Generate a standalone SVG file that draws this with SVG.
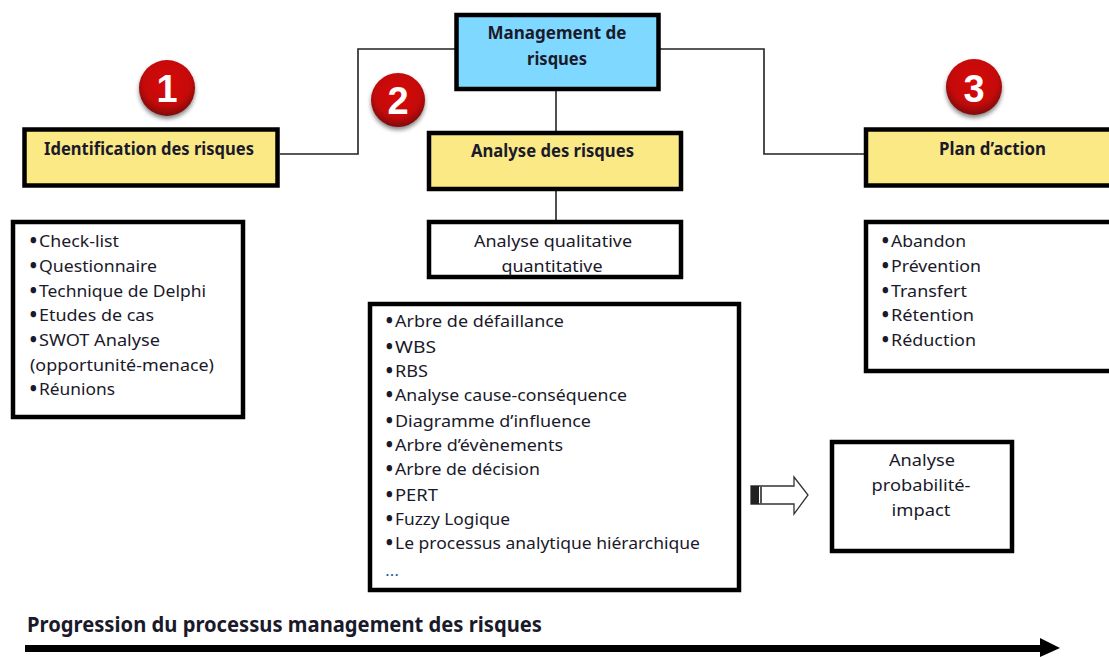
<svg xmlns="http://www.w3.org/2000/svg" width="1109" height="657" viewBox="0 0 1109 657">
<defs>
<radialGradient id="red" cx="0.5" cy="0.4" r="0.6"><stop offset="0" stop-color="#d80808"/><stop offset="0.7" stop-color="#c40a0a"/><stop offset="1" stop-color="#7e0a0a"/></radialGradient>
<filter id="sh" x="-30%" y="-30%" width="160%" height="160%"><feGaussianBlur stdDeviation="2"/></filter>
</defs>
<style>
text{font-family:"Noto Sans","Open Sans",sans-serif;fill:#1a1a2a;font-size:17px}
.b{font-weight:700;font-size:17px}
.box{stroke:#000;stroke-width:4.5;fill:#fff}
.y{fill:#fbe985}
.c{text-anchor:middle}
.n{font-family:"Liberation Sans",sans-serif;font-weight:700;font-size:38px;fill:#fff;text-anchor:middle}
.s{fill:#555;filter:url(#sh);opacity:.7}
.l{fill:none;stroke:#222;stroke-width:1.6}
.d{font-weight:900}
</style>
<rect width="1109" height="657" fill="#fff"/>
<g id="connectors">
<path class="l" d="M455 49H358V154H280"/>
<path class="l" d="M660 49H764V154H864"/>
<path class="l" d="M556 90V131"/>
<path class="l" d="M556 190V221"/>
</g>
<g id="mgmt">
<rect class="box" x="456.500" y="15" width="202" height="74" style="fill:#7fd8ff"/>
<text class="b c" x="557" y="39" textLength="139" lengthAdjust="spacingAndGlyphs">Management de</text>
<text class="b c" x="557" y="65" textLength="60" lengthAdjust="spacingAndGlyphs">risques</text>
</g>
<g id="badge1">
<circle class="s" cx="167" cy="91" r="28"/><circle cx="167" cy="88" r="28" fill="url(#red)"/>
<text class="n" x="167" y="102">1</text>
</g>
<g id="badge2">
<circle class="s" cx="398" cy="103" r="27"/><circle cx="398" cy="100" r="27" fill="url(#red)"/>
<text class="n" x="398" y="114">2</text>
</g>
<g id="badge3">
<circle class="s" cx="974" cy="90" r="28"/><circle cx="974" cy="87" r="28" fill="url(#red)"/>
<text class="n" x="974" y="102">3</text>
</g>
<g id="identification">
<rect class="box y" x="24.500" y="129.500" width="253" height="56"/>
<text class="b" x="44" y="155" textLength="210" lengthAdjust="spacingAndGlyphs">Identification des risques</text>
</g>
<g id="analyse">
<rect class="box y" x="429" y="133" width="252" height="56"/>
<text class="b" x="471" y="157" textLength="163" lengthAdjust="spacingAndGlyphs">Analyse des risques</text>
</g>
<g id="plan">
<rect class="box y" x="866" y="129.500" width="250" height="56"/>
<text class="b" x="939" y="155" textLength="107" lengthAdjust="spacingAndGlyphs">Plan d’action</text>
</g>
<g id="list1">
<rect class="box" x="13" y="222" width="230" height="195"/>
<text y="247"><tspan class="d" x="30">•</tspan><tspan x="39" textLength="80" lengthAdjust="spacingAndGlyphs">Check-list</tspan></text>
<text y="272"><tspan class="d" x="30">•</tspan><tspan x="39" textLength="118" lengthAdjust="spacingAndGlyphs">Questionnaire</tspan></text>
<text y="297"><tspan class="d" x="30">•</tspan><tspan x="39" textLength="167" lengthAdjust="spacingAndGlyphs">Technique de Delphi</tspan></text>
<text y="321"><tspan class="d" x="30">•</tspan><tspan x="39" textLength="115" lengthAdjust="spacingAndGlyphs">Etudes de cas</tspan></text>
<text y="346"><tspan class="d" x="30">•</tspan><tspan x="39" textLength="121" lengthAdjust="spacingAndGlyphs">SWOT Analyse</tspan></text>
<text x="30" y="371" textLength="184" lengthAdjust="spacingAndGlyphs">(opportunité-menace)</text>
<text y="395"><tspan class="d" x="30">•</tspan><tspan x="39" textLength="76" lengthAdjust="spacingAndGlyphs">Réunions</tspan></text>
</g>
<g id="qual">
<rect class="box" x="429" y="222" width="252" height="55"/>
<text class="c" x="553" y="247" textLength="158" lengthAdjust="spacingAndGlyphs">Analyse qualitative</text>
<text class="c" x="552" y="272" textLength="101" lengthAdjust="spacingAndGlyphs">quantitative</text>
</g>
<g id="list2">
<rect class="box" x="370" y="304" width="369" height="286"/>
<text y="327"><tspan class="d" x="386">•</tspan><tspan x="395" textLength="169" lengthAdjust="spacingAndGlyphs">Arbre de défaillance</tspan></text>
<text y="353"><tspan class="d" x="386">•</tspan><tspan x="395" textLength="41" lengthAdjust="spacingAndGlyphs">WBS</tspan></text>
<text y="377"><tspan class="d" x="386">•</tspan><tspan x="395" textLength="33" lengthAdjust="spacingAndGlyphs">RBS</tspan></text>
<text y="401"><tspan class="d" x="386">•</tspan><tspan x="395" textLength="232" lengthAdjust="spacingAndGlyphs">Analyse cause-conséquence</tspan></text>
<text y="427"><tspan class="d" x="386">•</tspan><tspan x="395" textLength="196" lengthAdjust="spacingAndGlyphs">Diagramme d’influence</tspan></text>
<text y="451"><tspan class="d" x="386">•</tspan><tspan x="395" textLength="168" lengthAdjust="spacingAndGlyphs">Arbre d’évènements</tspan></text>
<text y="475"><tspan class="d" x="386">•</tspan><tspan x="395" textLength="145" lengthAdjust="spacingAndGlyphs">Arbre de décision</tspan></text>
<text y="501"><tspan class="d" x="386">•</tspan><tspan x="395" textLength="43" lengthAdjust="spacingAndGlyphs">PERT</tspan></text>
<text y="525"><tspan class="d" x="386">•</tspan><tspan x="395" textLength="115" lengthAdjust="spacingAndGlyphs">Fuzzy Logique</tspan></text>
<text y="549"><tspan class="d" x="386">•</tspan><tspan x="395" textLength="305" lengthAdjust="spacingAndGlyphs">Le processus analytique hiérarchique</tspan></text>
<text x="385" y="576" textLength="14" lengthAdjust="spacingAndGlyphs" style="fill:#2a5fa8;font-size:14px">…</text>
</g>
<g id="list3">
<rect class="box" x="866" y="222" width="250" height="149"/>
<text y="247"><tspan class="d" x="882">•</tspan><tspan x="891" textLength="75" lengthAdjust="spacingAndGlyphs">Abandon</tspan></text>
<text y="272"><tspan class="d" x="882">•</tspan><tspan x="891" textLength="90" lengthAdjust="spacingAndGlyphs">Prévention</tspan></text>
<text y="297"><tspan class="d" x="882">•</tspan><tspan x="891" textLength="76" lengthAdjust="spacingAndGlyphs">Transfert</tspan></text>
<text y="321"><tspan class="d" x="882">•</tspan><tspan x="891" textLength="83" lengthAdjust="spacingAndGlyphs">Rétention</tspan></text>
<text y="346"><tspan class="d" x="882">•</tspan><tspan x="891" textLength="85" lengthAdjust="spacingAndGlyphs">Réduction</tspan></text>
</g>
<g id="block-arrow">
<path d="M751 486H794V477L808 495L794 514V504H751Z" fill="#fff" stroke="#333" stroke-width="1.300"/>
<rect x="751" y="486" width="8" height="18" fill="#222"/>
<rect x="760" y="486" width="2" height="18" fill="#555"/>
</g>
<g id="prob">
<rect class="box" x="832" y="442" width="180" height="109"/>
<text class="c" x="922" y="466" textLength="66" lengthAdjust="spacingAndGlyphs">Analyse</text>
<text class="c" x="921" y="491" textLength="99" lengthAdjust="spacingAndGlyphs">probabilité-</text>
<text class="c" x="921" y="516" textLength="59" lengthAdjust="spacingAndGlyphs">impact</text>
</g>
<g id="progression">
<text x="27" y="632" style="font-weight:700;font-size:21px" textLength="515" lengthAdjust="spacingAndGlyphs">Progression du processus management des risques</text>
<path d="M25 645H1040V638L1060 648L1040 657V652H25Z" fill="#000"/>
</g>
</svg>
